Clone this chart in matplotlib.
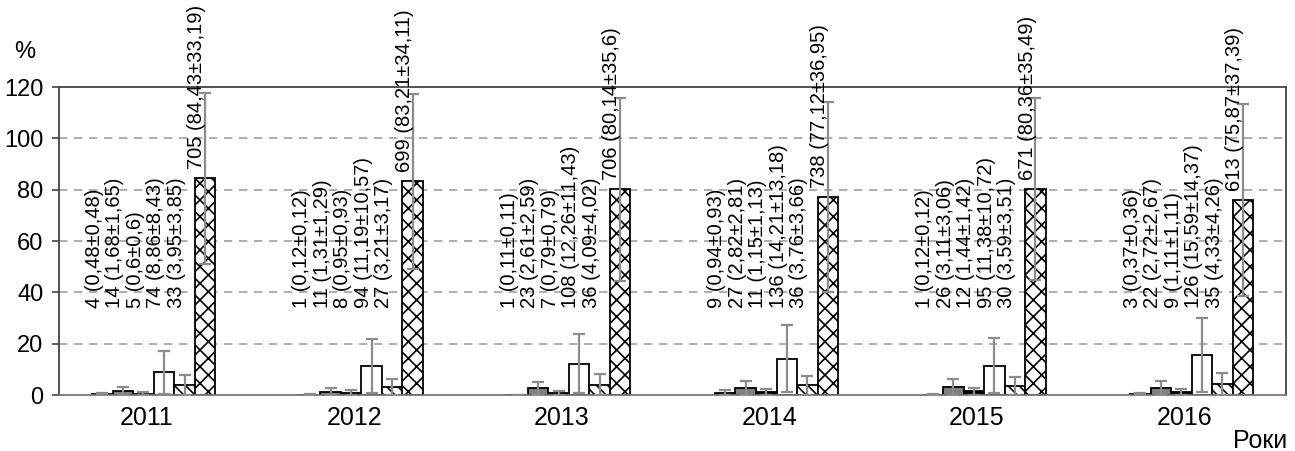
import matplotlib
matplotlib.use("Agg")
import matplotlib.pyplot as plt
import numpy as np

plt.rcParams['font.family'] = ['Liberation Sans', 'DejaVu Sans']
plt.rcParams['hatch.linewidth'] = 1.2

years = ['2011', '2012', '2013', '2014', '2015', '2016']

# one row per year, one column per bar (6 bars in each group)
counts = [
    [4, 14, 5, 74, 33, 705],
    [1, 11, 8, 94, 27, 699],
    [1, 23, 7, 108, 36, 706],
    [9, 27, 11, 136, 36, 738],
    [1, 26, 12, 95, 30, 671],
    [3, 22, 9, 126, 35, 613],
]
means = [
    [0.48, 1.68, 0.6, 8.86, 3.95, 84.43],
    [0.12, 1.31, 0.95, 11.19, 3.21, 83.21],
    [0.11, 2.61, 0.79, 12.26, 4.09, 80.14],
    [0.94, 2.82, 1.15, 14.21, 3.76, 77.12],
    [0.12, 3.11, 1.44, 11.38, 3.59, 80.36],
    [0.37, 2.72, 1.11, 15.59, 4.33, 75.87],
]
sds = [
    [0.48, 1.65, 0.6, 8.43, 3.85, 33.19],
    [0.12, 1.29, 0.93, 10.57, 3.17, 34.11],
    [0.11, 2.59, 0.79, 11.43, 4.02, 35.6],
    [0.93, 2.81, 1.13, 13.18, 3.66, 36.95],
    [0.12, 3.06, 1.42, 10.72, 3.51, 35.49],
    [0.36, 2.67, 1.11, 14.37, 4.26, 37.39],
]

fills = ['black', '#808080', 'black', 'white', 'white', 'white']
hatches = [None, None, None, None, '\\\\\\', 'xx']


def fmt(v):
    return str(v).replace('.', ',')


fig = plt.figure(figsize=(12.95, 4.51), dpi=100)
ax = fig.add_axes([0.0453, 0.124, 0.9477, 0.683])

means_arr = np.array(means)
sds_arr = np.array(sds)
x = np.arange(len(years))
width = 0.0988
offsets = 0.282 - width * np.arange(5, -1, -1)

for k in range(6):
    xs = x + offsets[k]
    ax.bar(xs, means_arr[:, k], width=width, color=fills[k], edgecolor='black',
           linewidth=1.3, hatch=hatches[k], zorder=2)
    ax.errorbar(xs, means_arr[:, k], yerr=sds_arr[:, k], fmt='none',
                ecolor='#8c8c8c', elinewidth=1.6, capsize=4, capthick=1.6, zorder=3)

for i in range(len(years)):
    for k in range(6):
        txt = f"{counts[i][k]} ({fmt(means[i][k])}±{fmt(sds[i][k])})"
        if k < 5:
            y = 34
        else:
            y = means[i][k] + 3.5
        ax.text(x[i] + offsets[k] - 0.04, y, txt, rotation=90, ha='center',
                va='bottom', fontsize=14.5, clip_on=False, zorder=4)

ax.set_ylim(0, 120)
ax.set_xlim(-0.423, 5.489)
ax.set_yticks(np.arange(0, 121, 20))
ax.set_xticks(x)
ax.set_xticklabels(years)
ax.tick_params(axis='y', labelsize=17, length=5, width=1.2, color='#444444', pad=6)
ax.tick_params(axis='x', labelsize=18, length=0, pad=8)

for yv in range(20, 120, 20):
    ax.axhline(yv, color='#a0a0a0', linestyle=(0, (5, 4)), linewidth=1.2, zorder=1)

for s in ax.spines.values():
    s.set_color('#444444')
    s.set_linewidth(1.3)
ax.spines['bottom'].set_color('#777777')

fig.text(25 / 1295, 1 - 52 / 451, '%', ha='center', va='center', fontsize=17)
fig.text(1287 / 1295, 1 - 441 / 451, 'Роки', ha='right', va='center', fontsize=18)

fig.savefig('out.png', dpi=100)
